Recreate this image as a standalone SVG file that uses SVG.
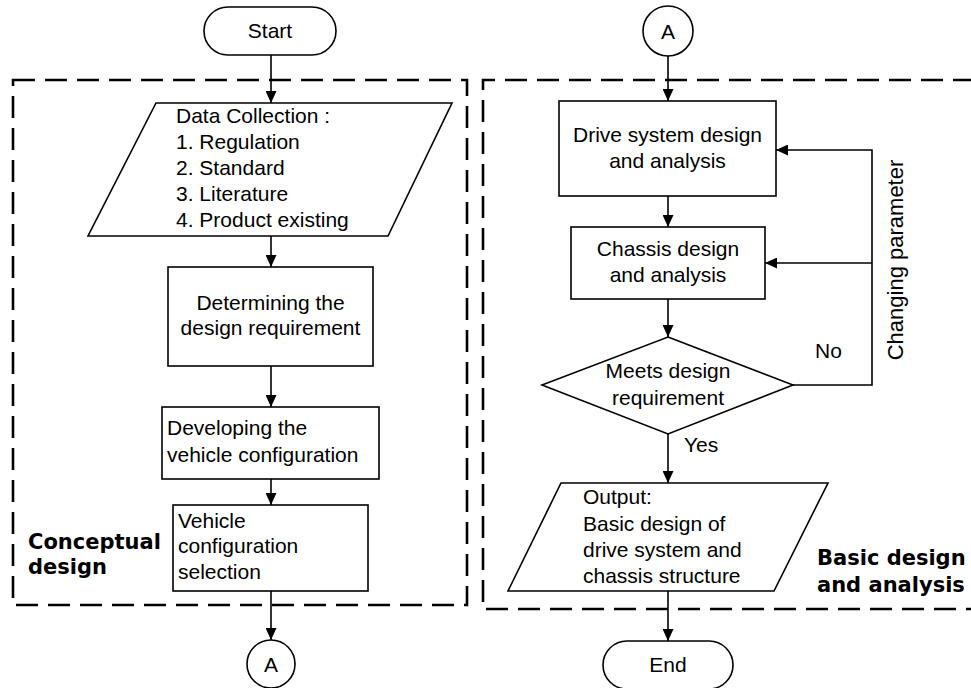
<svg xmlns="http://www.w3.org/2000/svg" width="971" height="688" viewBox="0 0 971 688">
<style>
.s{fill:#fff;stroke:#000;stroke-width:1.6}
.d{fill:none;stroke:#000;stroke-width:2.6;stroke-dasharray:22 10}
.c{fill:none;stroke:#000;stroke-width:1.6}
.t{font-family:"Liberation Sans",Arial,sans-serif;font-size:21px;fill:#000}
.m{text-anchor:middle}
.b{font-family:"DejaVu Sans",sans-serif;font-weight:bold;font-size:21px;fill:#000}
</style>
<defs>
<marker id="ah" markerUnits="userSpaceOnUse" markerWidth="12" markerHeight="11" refX="12" refY="5.5" orient="auto">
<path d="M0,0 L12,5.5 L0,11 z" fill="#000"/>
</marker>
</defs>
<rect width="971" height="688" fill="#fff"/>
<g id="groups">
<rect class="d" x="13" y="80" width="454" height="525"/>
<path class="d" d="M975,80 H483 V609 H975"/>
<text class="b" x="28" y="549">Conceptual</text>
<text class="b" x="28" y="574">design</text>
<text class="b" x="817" y="565">Basic design</text>
<text class="b" x="817" y="592">and analysis</text>
</g>
<g id="connectors">
<path class="c" d="M271,55 V103" marker-end="url(#ah)"/>
<path class="c" d="M271,236 V267" marker-end="url(#ah)"/>
<path class="c" d="M271,366 V407" marker-end="url(#ah)"/>
<path class="c" d="M271,479 V505" marker-end="url(#ah)"/>
<path class="c" d="M271,591 V640" marker-end="url(#ah)"/>
<path class="c" d="M668,56 V101" marker-end="url(#ah)"/>
<path class="c" d="M668,196 V227" marker-end="url(#ah)"/>
<path class="c" d="M668,299 V337" marker-end="url(#ah)"/>
<path class="c" d="M668,434 V483" marker-end="url(#ah)"/>
<path class="c" d="M668,591 V641" marker-end="url(#ah)"/>
<path class="c" d="M793,385 H872 V150 H776" marker-end="url(#ah)"/>
<path class="c" d="M872,263 H765" marker-end="url(#ah)"/>
<text class="t" x="815" y="358">No</text>
<text class="t" x="684" y="452">Yes</text>
<text class="t m" style="font-size:22px" transform="translate(903,260) rotate(-90)">Changing parameter</text>
</g>
<g id="start">
<rect class="s" x="204" y="7" width="132" height="48" rx="24"/>
<text class="t m" x="270" y="38">Start</text>
</g>
<g id="data-collection">
<path class="s" d="M156,103 H452 L388,236 H88 Z"/>
<text class="t" x="176" y="123">Data Collection :</text>
<text class="t" x="176" y="149">1. Regulation</text>
<text class="t" x="176" y="175">2. Standard</text>
<text class="t" x="176" y="201">3. Literature</text>
<text class="t" x="176" y="227">4. Product existing</text>
</g>
<g id="determining">
<rect class="s" x="168" y="267" width="205" height="99"/>
<text class="t m" x="270.5" y="310">Determining the</text>
<text class="t m" x="270.5" y="335">design requirement</text>
</g>
<g id="developing">
<rect class="s" x="162" y="407" width="217" height="72"/>
<text class="t" x="167" y="435">Developing the</text>
<text class="t" x="167" y="462">vehicle configuration</text>
</g>
<g id="selection">
<rect class="s" x="173" y="505" width="195" height="86"/>
<text class="t" x="178" y="528">Vehicle</text>
<text class="t" x="178" y="553">configuration</text>
<text class="t" x="178" y="579">selection</text>
</g>
<g id="connector-a-out">
<circle class="s" cx="271" cy="664" r="24"/>
<text class="t m" x="271" y="672">A</text>
</g>
<g id="connector-a-in">
<circle class="s" cx="668" cy="31" r="25"/>
<text class="t m" x="668" y="39">A</text>
</g>
<g id="drive">
<rect class="s" x="559" y="101" width="217" height="95"/>
<text class="t m" x="667.5" y="142">Drive system design</text>
<text class="t m" x="667.5" y="168">and analysis</text>
</g>
<g id="chassis">
<rect class="s" x="571" y="227" width="194" height="72"/>
<text class="t m" x="668" y="256">Chassis design</text>
<text class="t m" x="668" y="282">and analysis</text>
</g>
<g id="decision">
<path class="s" d="M668,337 L793,385 L668,434 L542,385 Z"/>
<text class="t m" x="668" y="378">Meets design</text>
<text class="t m" x="668" y="405">requirement</text>
</g>
<g id="output">
<path class="s" d="M561,483 H828 L774,591 H508 Z"/>
<text class="t" x="583" y="504">Output:</text>
<text class="t" x="583" y="531">Basic design of</text>
<text class="t" x="583" y="557">drive system and</text>
<text class="t" x="583" y="583">chassis structure</text>
</g>
<g id="end">
<rect class="s" x="603" y="641" width="130" height="48" rx="24"/>
<text class="t m" x="668" y="672">End</text>
</g>
</svg>
